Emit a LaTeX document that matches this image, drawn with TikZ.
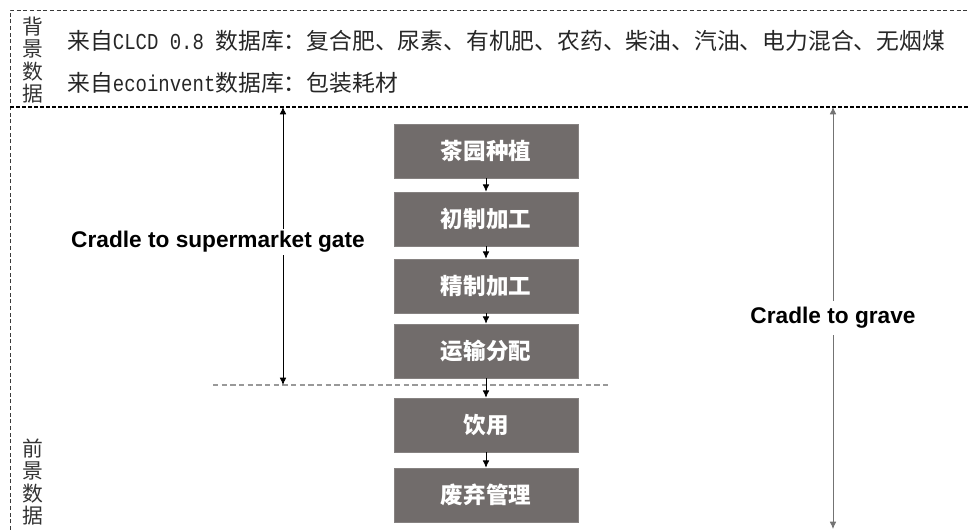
\documentclass[tikz,border=0pt]{standalone}
\usepackage{fontspec}
\setmainfont{Liberation Sans}
\newfontfamily\cjk{Noto Sans CJK SC}
\newfontfamily\lmono{Liberation Mono}[FakeStretch=0.833]
\usetikzlibrary{arrows.meta}
\definecolor{boxgray}{HTML}{716C6B}
\definecolor{bordergray}{HTML}{3A3A3A}
\tikzset{
  stepbox/.style={fill=boxgray, draw=boxgray!85!white, minimum width=138pt, minimum height=40.5pt, inner sep=0pt,
    text=white, font=\cjk\bfseries\fontsize{16.9pt}{18pt}\selectfont},
  flowarrow/.style={draw=black, line width=0.6pt, -{Latex[length=5.5pt,width=5pt]}},
  spanarrow/.style={line width=0.6pt, {Latex[length=5.5pt,width=5pt]}-{Latex[length=5.5pt,width=5pt]}},
  rowtext/.style={anchor=west, inner sep=0pt, text=black!85, font=\cjk\fontsize{17.1pt}{20pt}\selectfont},
  vlabel/.style={inner sep=0pt, align=center, text=black!80, font=\cjk\fontsize{15.6pt}{16.9pt}\selectfont},
  spanlabel/.style={inner sep=2pt, fill=white, font=\bfseries\fontsize{17pt}{20pt}\selectfont},
  border/.style={draw=bordergray, line width=0.6pt, dash pattern=on 3pt off 2pt}
}
\begin{document}
\begin{tikzpicture}[x=0.75pt, y=-0.75pt]
\useasboundingbox (0,0) rectangle (968,530);
% frame
\draw[border] (10,530) -- (10,10) -- (968,10);
\draw[draw=black, line width=0.9pt, dash pattern=on 3pt off 1.5pt] (10,107) -- (968,107);
% background data
\node[vlabel] (bg) at (33,60) {背\\景\\数\\据};
\node[rowtext] (row1) at (67,41) {来自{\lmono CLCD 0.8 }数据库：复合肥、尿素、有机肥、农药、柴油、汽油、电力混合、无烟煤};
\node[rowtext] (row2) at (67,83) {来自{\lmono ecoinvent}数据库：包装耗材};
% foreground data
\node[vlabel] (fg) at (33,482) {前\\景\\数\\据};
% process boxes
\node[stepbox] (n1) at (486,151) {茶园种植};
\node[stepbox] (n2) at (486,219) {初制加工};
\node[stepbox] (n3) at (486,286) {精制加工};
\node[stepbox] (n4) at (486,351) {运输分配};
\node[stepbox] (n5) at (486,425) {饮用};
\node[stepbox] (n6) at (486,495) {废弃管理};
\draw[flowarrow] (n1) -- (n2);
\draw[flowarrow] (n2) -- (n3);
\draw[flowarrow] (n3) -- (n4);
% gate line
\coordinate (gl) at (213,385);
\coordinate (gr) at (608,385);
\draw[draw=black!40, line width=0.8pt, dash pattern=on 4pt off 2.5pt] (gl) -- (gr);
\draw[flowarrow] (n4) -- (n5);
\draw[flowarrow] (n5) -- (n6);
% span arrows
\coordinate (sgtop) at (283,107);
\coordinate (sgbot) at (283,385);
\draw[spanarrow, draw=black] (sgtop) -- (sgbot);
\node[spanlabel] (sg) at (218,242) {Cradle to supermarket gate};
\coordinate (gvtop) at (833,107);
\coordinate (gvbot) at (833,529);
\draw[spanarrow, draw=black!55] (gvtop) -- (gvbot);
\node[spanlabel, inner xsep=10pt, inner ysep=5pt] (gv) at (833,318) {Cradle to grave};
\end{tikzpicture}
\end{document}
